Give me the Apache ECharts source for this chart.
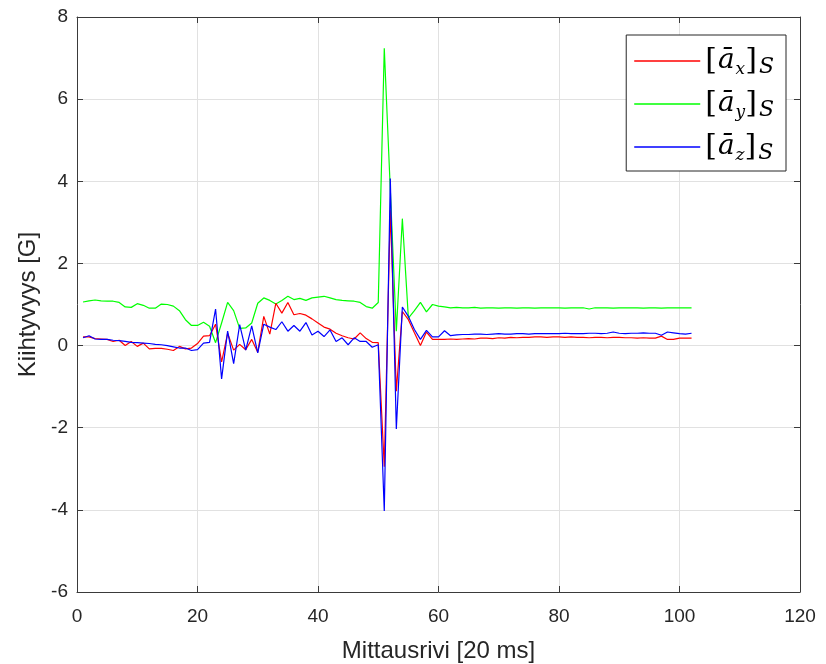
<!DOCTYPE html>
<html>
<head>
<meta charset="utf-8">
<script src="https://cdn.jsdelivr.net/npm/echarts@6/dist/echarts.min.js"></script>
<style>html,body{margin:0;padding:0;background:#fff;}#c{width:826px;height:664px;}</style>
</head>
<body>
<div id="c"></div>
<script>
// Sample numbers (Mittausrivi), 1..102
const rows = [1,2,3,4,5,6,7,8,9,10,11,12,13,14,15,16,17,18,19,20,21,22,23,24,25,26,27,28,29,30,31,32,33,34,35,36,37,38,39,40,41,42,43,44,45,46,47,48,49,50,51,52,53,54,55,56,57,58,59,60,61,62,63,64,65,66,67,68,69,70,71,72,73,74,75,76,77,78,79,80,81,82,83,84,85,86,87,88,89,90,91,92,93,94,95,96,97,98,99,100,101,102];

const ax = [0.21,0.21,0.17,0.16,0.15,0.10,0.13,0.00,0.10,-0.02,0.06,-0.08,-0.07,-0.07,-0.09,-0.12,-0.02,-0.08,-0.06,0.05,
  0.23,0.24,0.52,-0.40,0.30,-0.11,0.03,-0.10,0.15,-0.16,0.71,0.28,1.03,0.79,1.05,0.75,0.78,0.74,0.65,0.55,
  0.45,0.40,0.30,0.24,0.19,0.16,0.31,0.17,0.08,0.07,-2.95,3.30,-1.11,0.83,0.63,0.31,0.00,0.33,0.15,0.15,
  0.15,0.16,0.15,0.16,0.17,0.16,0.18,0.18,0.17,0.19,0.18,0.20,0.19,0.20,0.20,0.21,0.21,0.20,0.21,0.21,
  0.20,0.21,0.20,0.20,0.19,0.20,0.20,0.19,0.20,0.20,0.19,0.19,0.18,0.19,0.18,0.18,0.23,0.15,0.15,0.18,
  0.18,0.18];

const ay = [1.06,1.09,1.11,1.09,1.08,1.08,1.05,0.94,0.93,1.02,0.98,0.91,0.91,1.01,1.00,0.96,0.85,0.63,0.49,0.49,
  0.57,0.47,0.07,0.55,1.05,0.85,0.42,0.43,0.55,1.03,1.16,1.10,1.01,1.10,1.20,1.12,1.15,1.10,1.16,1.18,
  1.20,1.16,1.12,1.10,1.09,1.08,1.05,0.95,0.91,1.05,7.24,3.80,0.35,3.09,0.67,0.85,1.05,0.82,1.00,0.96,
  0.94,0.92,0.93,0.92,0.92,0.93,0.91,0.92,0.92,0.91,0.92,0.92,0.91,0.92,0.92,0.91,0.92,0.92,0.92,0.92,
  0.91,0.92,0.92,0.92,0.89,0.92,0.92,0.92,0.91,0.92,0.92,0.92,0.92,0.91,0.92,0.92,0.91,0.92,0.92,0.92,
  0.92,0.92];

const az = [0.19,0.24,0.16,0.15,0.15,0.13,0.12,0.10,0.08,0.07,0.06,0.05,0.03,0.02,0.00,-0.03,-0.06,-0.06,-0.12,-0.10,
  0.06,0.08,0.89,-0.81,0.35,-0.44,0.51,-0.11,0.48,-0.18,0.52,0.45,0.39,0.58,0.35,0.49,0.35,0.56,0.26,0.35,
  0.22,0.38,0.10,0.19,0.02,0.19,0.10,0.10,-0.04,0.02,-4.03,4.07,-2.03,0.94,0.71,0.39,0.15,0.37,0.21,0.21,
  0.36,0.24,0.26,0.27,0.27,0.28,0.28,0.27,0.28,0.29,0.28,0.28,0.29,0.29,0.28,0.29,0.29,0.29,0.29,0.29,
  0.30,0.29,0.29,0.29,0.30,0.30,0.29,0.30,0.33,0.30,0.29,0.30,0.30,0.31,0.30,0.30,0.25,0.33,0.31,0.29,
  0.28,0.30];

const seriesNames = ['ax', 'ay', 'az'];
const seriesColors = ['#ff0000', '#00ff00', '#0000ff'];
const subs = {ax: 'x', ay: 'y', az: 'z'};
const xTicks = [0, 20, 40, 60, 80, 100, 120];
const yTicks = [-6, -4, -2, 0, 2, 4, 6, 8];
const xLabel = 'Mittausrivi [20 ms]';
const yLabel = 'Kiihtyvyys [G]';

const pairs = arr => rows.map((r, i) => [r, arr[i]]);

const chart = echarts.init(document.getElementById('c'), null, {renderer: 'canvas'});
const axisColor = '#3a3a3a';
const gridColor = '#e1e1e1';
const fontFam = 'Liberation Sans, Arial, sans-serif';
const labelFont = {color: '#262626', fontSize: 19, fontFamily: fontFam};
const nameFont = {color: '#262626', fontSize: 24, fontFamily: fontFam};

const baseX = {
  type: 'value', min: xTicks[0], max: xTicks[xTicks.length - 1], interval: 20,
  axisLine: {show: true, onZero: false, lineStyle: {color: axisColor, width: 1}},
  axisTick: {show: true, inside: true, length: 6, lineStyle: {color: axisColor}},
  splitLine: {show: false}
};
const baseY = {
  type: 'value', min: yTicks[0], max: yTicks[yTicks.length - 1], interval: 2,
  axisLine: {show: true, onZero: false, lineStyle: {color: axisColor, width: 1}},
  axisTick: {show: true, inside: true, length: 6, lineStyle: {color: axisColor}},
  splitLine: {show: false}
};

chart.setOption({
  animation: false,
  backgroundColor: '#ffffff',
  grid: {left: 77, right: 26, top: 17, bottom: 72, containLabel: false, outerBoundsMode: 'none'},
  xAxis: [
    Object.assign({}, baseX, {
      position: 'bottom',
      axisLabel: Object.assign({margin: 15}, labelFont),
      splitLine: {show: true, lineStyle: {color: gridColor, width: 1}},
      name: xLabel, nameLocation: 'middle', nameGap: 47,
      nameTextStyle: nameFont
    }),
    Object.assign({}, baseX, {position: 'top', axisLabel: {show: false}})
  ],
  yAxis: [
    Object.assign({}, baseY, {
      position: 'left',
      axisLabel: Object.assign({margin: 9}, labelFont),
      splitLine: {show: true, lineStyle: {color: gridColor, width: 1}},
      name: yLabel, nameLocation: 'middle', nameGap: 37,
      nameTextStyle: nameFont
    }),
    Object.assign({}, baseY, {position: 'right', axisLabel: {show: false}})
  ],
  legend: {
    show: true,
    orient: 'vertical',
    right: 40, top: 35,
    backgroundColor: '#ffffff',
    borderColor: '#262626', borderWidth: 1, borderRadius: 0,
    padding: [11, 12, 7, 8],
    itemWidth: 66, itemHeight: 1.5, itemGap: 11,
    data: seriesNames.map((n, i) => ({name: n, icon: 'rect', itemStyle: {color: seriesColors[i]}})),
    formatter: name => '{br|[}{a|\u0101}{sub|' + subs[name] + '}{br|]}{s|S}',
    textStyle: {
      color: '#000',
      rich: {
        br: {fontFamily: 'DejaVu Serif', fontSize: 30, lineHeight: 34, color: '#000', verticalAlign: 'middle'},
        a: {fontFamily: 'DejaVu Serif', fontStyle: 'italic', fontSize: 28, lineHeight: 34, color: '#000', verticalAlign: 'middle', padding: [0, 1, 0, 1]},
        sub: {fontFamily: 'DejaVu Serif', fontStyle: 'italic', fontSize: 17, lineHeight: 26, color: '#000', verticalAlign: 'bottom'},
        s: {fontFamily: 'DejaVu Serif', fontStyle: 'italic', fontSize: 22, lineHeight: 26, color: '#000', verticalAlign: 'bottom', padding: [0, 0, 0, 2]}
      }
    }
  },
  series: [
    {name: 'ax', type: 'line', data: pairs(ax), symbol: 'none', color: seriesColors[0], lineStyle: {color: seriesColors[0], width: 1.2}, z: 3},
    {name: 'ay', type: 'line', data: pairs(ay), symbol: 'none', color: seriesColors[1], lineStyle: {color: seriesColors[1], width: 1.2}, z: 2},
    {name: 'az', type: 'line', data: pairs(az), symbol: 'none', color: seriesColors[2], lineStyle: {color: seriesColors[2], width: 1.2}, z: 4}
  ]
});
</script>
</body>
</html>
